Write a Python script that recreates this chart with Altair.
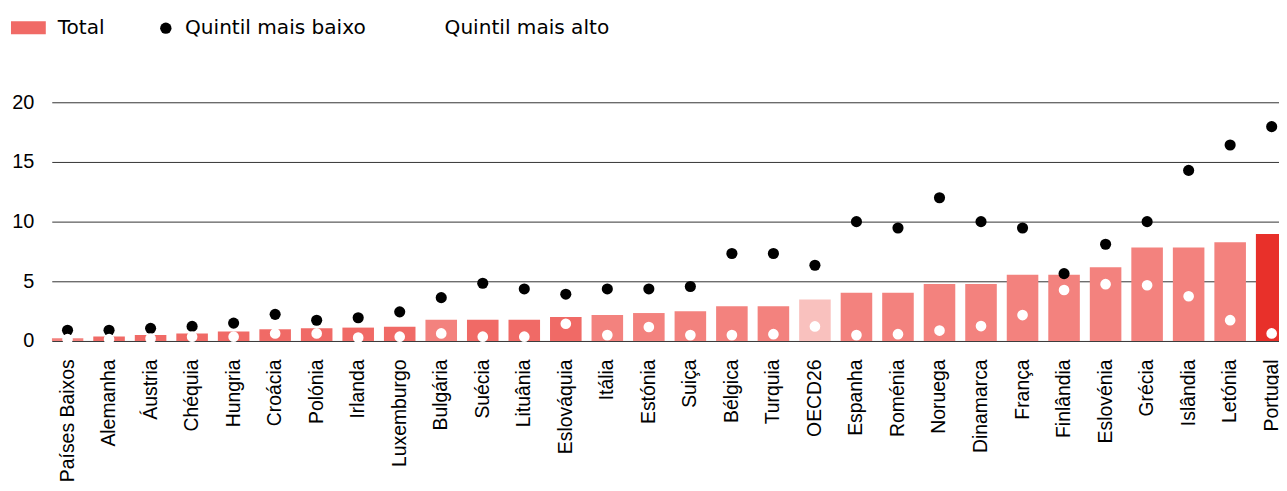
import altair as alt
import pandas as pd

paises = ["Países Baixos", "Alemanha", "Áustria", "Chéquia", "Hungria", "Croácia",
          "Polónia", "Irlanda", "Luxemburgo", "Bulgária", "Suécia", "Lituânia",
          "Eslováquia", "Itália", "Estónia", "Suiça", "Bélgica", "Turquia", "OECD26",
          "Espanha", "Roménia", "Noruega", "Dinamarca", "França", "Finlândia",
          "Eslovénia", "Grécia", "Islândia", "Letónia", "Portugal"]
total = [0.22, 0.38, 0.49, 0.63, 0.79, 0.98, 1.06, 1.12, 1.2, 1.77, 1.77, 1.77,
         2.01, 2.18, 2.34, 2.5, 2.91, 2.91, 3.48, 4.05, 4.05, 4.78, 4.78, 5.55,
         5.55, 6.17, 7.83, 7.83, 8.27, 8.97]
quintil_baixo = [0.9, 0.9, 1.06, 1.22, 1.5, 2.23, 1.74, 1.95, 2.44, 3.63, 4.84, 4.36,
                 3.92, 4.36, 4.36, 4.56, 7.33, 7.33, 6.34, 10.0, 9.47, 12.0, 10.0, 9.47,
                 5.64, 8.1, 10.0, 14.29, 16.42, 17.96]
quintil_alto = [0.15, 0.15, 0.2, 0.36, 0.36, 0.63, 0.63, 0.28, 0.36, 0.63, 0.36, 0.36,
                1.44, 0.49, 1.17, 0.49, 0.49, 0.57, 1.22, 0.49, 0.57, 0.87, 1.25, 2.17,
                4.27, 4.76, 4.67, 3.75, 1.74, 0.63]
grupo = (["claro"] + ["escuro"] * 8 + ["claro"] + ["escuro"] * 3 + ["claro"] * 5
         + ["ocde"] + ["claro"] * 10 + ["portugal"])

grupos = ["escuro", "claro", "ocde", "portugal"]
cores = ["#F06A66", "#F3827E", "#F9C1BE", "#E8302A"]

legenda = ["Total", "Quintil mais baixo", "Quintil mais alto"]
y_ticks = [0, 5, 10, 15, 20]

df = pd.DataFrame({"pais": paises, "total": total, "baixo": quintil_baixo,
                   "alto": quintil_alto, "grupo": grupo})

AX_FONT = "Liberation Sans"
LEG_FONT = "DejaVu Sans"

xenc = alt.X("pais:N", sort=paises,
             scale=alt.Scale(range=[0, 1242.5], paddingInner=0.24, paddingOuter=0),
             axis=alt.Axis(title=None, labelAngle=270, labelFontSize=19.5, labelFont=AX_FONT,
                           labelColor="#000", labelPadding=18, ticks=False, domain=False,
                           labelOverlap=False, grid=False))

yaxis = alt.Axis(title=None, values=y_ticks, grid=True, gridColor="#333", gridWidth=1,
                 domain=False, ticks=False, labelPadding=18, labelFontSize=20,
                 labelFont=AX_FONT, labelColor="#000")
yscale = alt.Scale(domain=[0, 20], nice=False)

base = alt.Chart(df).encode(x=xenc)

bars = base.mark_bar(clip=True).encode(
    y=alt.Y("total:Q", scale=yscale, axis=yaxis, title=None),
    color=alt.Color("grupo:N", scale=alt.Scale(domain=grupos, range=cores), legend=None),
)

pts_baixo = base.mark_circle(size=125, opacity=1, color="#000").encode(
    y=alt.Y("baixo:Q", scale=yscale, axis=yaxis, title=None))
pts_alto = base.mark_circle(size=115, opacity=1, color="#fff").encode(
    y=alt.Y("alto:Q", scale=yscale, axis=yaxis, title=None))

one = pd.DataFrame({"k": [0]})
leg_rect = alt.Chart(one).mark_rect(color="#F06A66").encode(
    x=alt.value(-41), x2=alt.value(-6), y=alt.value(-81.5), y2=alt.value(-68.5))
leg_dot1 = alt.Chart(one).mark_circle(size=130, opacity=1, color="#000").encode(
    x=alt.value(114.7), y=alt.value(-74.5))
leg_dot2 = alt.Chart(one).mark_circle(size=130, opacity=1, color="#fff").encode(
    x=alt.value(375), y=alt.value(-74.5))
leg_txt = alt.Chart(pd.DataFrame({"t": legenda, "px": [6, 134, 395]})).mark_text(
    align="left", baseline="middle", fontSize=20.2, font=LEG_FONT, color="#000"
).encode(text="t:N", x=alt.X("px:Q", scale=None), y=alt.value(-74.5))

chart = alt.layer(bars, pts_baixo, pts_alto, leg_rect, leg_dot1, leg_dot2, leg_txt).properties(
    width=1234, height=240,
    autosize=alt.AutoSizeParams(type="none"),
    padding={"left": 44, "top": 93.5, "right": 0, "bottom": 139.5},
).configure_view(stroke=None)

chart.save("out.html", embed_options={"renderer": "svg", "actions": False})
